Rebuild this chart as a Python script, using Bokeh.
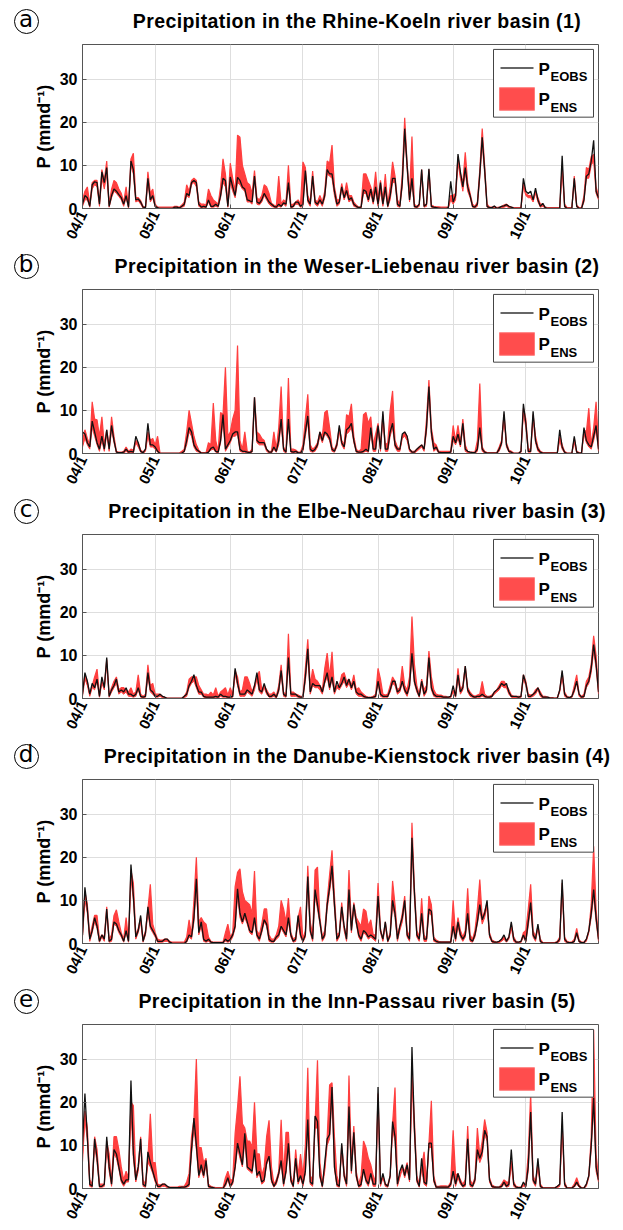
from bokeh.plotting import figure
from bokeh.layouts import column
from bokeh.models import Range1d, FixedTicker, Div
from bokeh.core.properties import value
from bokeh.embed import file_html
from bokeh.resources import INLINE

# ---------------- data ----------------
month_ticks = [0, 30, 61, 91, 122, 153, 183]
month_labels = ["04/1", "05/1", "06/1", "07/1", "08/1", "09/1", "10/1"]
y_ticks = [0, 10, 20, 30]

titles = [
    "Precipitation in the Rhine-Koeln river basin (1)",
    "Precipitation in the Weser-Liebenau river basin (2)",
    "Precipitation in the Elbe-NeuDarchau river basin (3)",
    "Precipitation in the Danube-Kienstock river basin (4)",
    "Precipitation in the Inn-Passau river basin (5)",
]
letters = ["a", "b", "c", "d", "e"]

rhine_eobs = [
    1, 3, 2.5, 0.5, 5.5, 6.2, 6, 1, 8.5, 6,
    9.5, 0.5, 3, 4.5, 4, 3.2, 2.5, 1, 3, 0.3,
    11, 9, 2, 2.2, 1.5, 0.3, 0.2, 7, 2, 3,
    0.5, 0.2, 0, 0, 0, 0, 0, 0, 0.3, 0.3,
    0.1, 0.5, 1, 3.5, 3, 6, 6.5, 6, 1, 0.3,
    0.5, 0.3, 2, 0.5, 0.5, 1, 0.5, 3, 7, 6.5,
    0.5, 7.3, 5, 3, 7.2, 6.5, 5, 4.5, 2, 1.8,
    1.5, 7.5, 1.5, 1.2, 2, 3.5, 2.5, 1.5, 1, 0.5,
    0.3, 1, 0.5, 1.3, 1, 6, 0.3, 0.5, 1.5, 1.5,
    0.5, 1, 8.8, 2, 1, 7.5, 1.5, 1, 2, 1,
    3, 9, 8, 8, 4, 1, 1.5, 5, 2.5, 4.2,
    2, 2.5, 1, 0.5, 0.2, 0.3, 4.3, 4, 2, 4.5,
    1.5, 5, 1, 6, 1, 5, 0.5, 3, 7, 7,
    1, 0.5, 6, 18.5, 10, 2, 7, 0.5, 0.3, 1,
    9, 0.5, 1, 9.2, 0.5, 0.3, 0.2, 0.1, 0, 0,
    0, 0.2, 6.3, 1.5, 3, 12.6, 8.5, 5, 9.5, 5,
    3, 0.5, 0.3, 1, 8, 16.5, 9, 0.5, 0.2, 0.2,
    0.6, 0, 0.2, 0.5, 0.6, 0.9, 0.5, 0.3, 0.1, 0,
    0, 0.1, 7, 4, 3.5, 4, 2, 4.7, 2, 0.5,
    1.2, 0.2, 0, 0, 0, 0, 0, 0.1, 12.2, 0.5,
    0, 0, 0.1, 7, 0.5, 0, 0, 2, 7.5, 8,
    11, 15.8, 4, 2.5,
]
rhine_ens_hi = [
    2, 4, 5, 1, 6, 6.5, 6.5, 1.5, 9, 6.5,
    11, 1, 4.5, 6.5, 6, 4.5, 3.5, 1.5, 5, 0.5,
    11.5, 12.8, 2.5, 2.5, 1.8, 0.5, 0.3, 8.5, 3.5, 4.5,
    1, 0.3, 0.3, 0.3, 0.3, 0.3, 0.3, 0.3, 0.5, 0.5,
    0.3, 0.8, 1.5, 5.5, 4, 6.5, 7, 6.5, 1.5, 1,
    1, 0.8, 4.5, 3, 2, 1.5, 1, 5, 11.5, 8,
    1, 10.5, 7, 4, 17, 16.5, 10, 8, 6, 5.5,
    3.5, 8.8, 2.5, 2, 3, 5.5, 5, 3.5, 1.2, 0.8,
    0.5, 7.5, 1, 2, 1.5, 10, 0.8, 1, 1.5, 2,
    1, 10.8, 9.5, 3, 1.5, 8.7, 2, 1.5, 3, 1.5,
    4, 11, 10.5, 14.7, 5, 2, 2, 5.8, 3, 6,
    3, 3, 1.5, 0.8, 0.3, 0.5, 8, 8, 6.5, 5,
    3, 8.5, 2, 6.5, 2, 8, 1, 5, 10.8, 7.5,
    2, 1, 8, 21, 10.5, 3, 16.7, 1, 0.5, 1,
    9, 0.8, 1, 9, 0.8, 0.5, 0.4, 0.4, 0.3, 0.3,
    0.3, 0.4, 3, 3, 3.5, 12, 8, 6, 13, 6,
    3.5, 1, 0.5, 1.5, 9, 18.5, 10, 1, 0.3, 0.3,
    0.5, 0.2, 0.3, 0.5, 0.8, 1, 0.6, 0.3, 0.2, 0.2,
    0.2, 0.2, 6, 3.5, 3, 3, 2, 4, 2.5, 1,
    1, 0.3, 0.2, 0.2, 0.2, 0.2, 0.2, 0.2, 10, 1,
    0.2, 0.2, 0.2, 7.5, 0.8, 0.2, 0.2, 3, 9.5, 9,
    12, 12.5, 5, 3,
]
rhine_ens_lo = [
    0.5, 2, 2, 0.3, 4.5, 5.5, 5, 0.5, 7, 4.5,
    8, 0.3, 2.5, 4, 3.5, 2.8, 2, 0.5, 2.5, 0.1,
    10, 8, 1.5, 1.8, 1, 0.1, 0.1, 6, 1.5, 2.5,
    0.3, 0, 0, 0, 0, 0, 0, 0, 0.1, 0.1,
    0, 0.3, 0.5, 3, 2.5, 5.5, 6, 5, 0.5, 0.2,
    0.3, 0.2, 1.5, 0.3, 0.3, 0.5, 0.3, 2.5, 6, 5,
    0.3, 6, 4, 2.5, 6, 5.5, 4.5, 4, 1.5, 1.5,
    1, 6.5, 1, 0.8, 1.5, 3, 2, 1, 0.5, 0.3,
    0.1, 0.5, 0.3, 1, 0.5, 5, 0.2, 0.3, 1, 1,
    0.3, 0.5, 8, 1.5, 0.5, 6.5, 1, 0.5, 1.5, 0.5,
    2.5, 8, 7.5, 7, 3, 0.5, 1, 4.5, 2, 3.5,
    1.5, 2, 0.5, 0.3, 0, 0.1, 3.5, 3.5, 1.5, 3.5,
    1, 4, 0.5, 4, 0.5, 4, 0.3, 2, 6, 6,
    0.5, 0.3, 5, 17, 9, 1.5, 6, 0.3, 0.1, 0.5,
    8, 0.3, 0.5, 8, 0.3, 0.1, 0, 0, 0, 0,
    0, 0, 2, 1, 2, 10.5, 7, 4, 8.5, 4,
    2.5, 0.3, 0.1, 0.5, 7, 15, 8, 0.3, 0, 0,
    0.2, 0, 0, 0.2, 0.3, 0.5, 0.2, 0.1, 0, 0,
    0, 0, 5, 3, 2.5, 2.5, 1.5, 3.5, 1.5, 0.3,
    0.5, 0.1, 0, 0, 0, 0, 0, 0, 9, 0.3,
    0, 0, 0, 6, 0.3, 0, 0, 1.5, 7, 7,
    10, 11, 3.5, 2,
]

weser_eobs = [
    5, 4.5, 2.5, 1.5, 7.5, 5, 2.5, 1, 4, 1,
    5.5, 1, 6.5, 3, 0.3, 0.2, 0.2, 0.3, 1, 0.3,
    0.5, 0.3, 4, 2.5, 0.5, 0.2, 1, 7, 2, 2,
    1.5, 0.5, 0, 0, 0, 0, 0, 0, 0, 0,
    0, 0.1, 0.5, 3, 6, 5, 2, 1, 0.5, 0.1,
    0.1, 0.1, 0.3, 1.2, 1.5, 0.5, 0.3, 3, 9, 1,
    2, 3, 4.5, 5, 5, 1, 0.5, 0.5, 0.3, 0.2,
    0.5, 13, 3, 2.5, 2.5, 2.5, 1, 0.3, 0.3, 1.5,
    0.5, 3, 8, 1, 0.3, 8, 0.5, 0.3, 0.5, 0.2,
    0.1, 1, 5, 8.7, 1, 0.5, 1, 2, 5, 3,
    5, 4.5, 3.5, 1, 0.5, 2, 6.5, 2.5, 1.5, 5.5,
    6, 7, 3, 0.5, 0.3, 0.3, 0.5, 1, 0.5, 6,
    1, 1, 6.5, 1, 9.8, 1, 1, 5, 7, 2,
    1, 1, 4.5, 5, 4, 1, 0.3, 0.3, 1, 1.5,
    2, 1, 6, 15.5, 5, 1, 1.5, 0.3, 0.2, 0.2,
    0.2, 0.2, 0.3, 4, 2.5, 4.5, 2, 7, 1, 0.5,
    0.3, 0.2, 0.2, 1, 6, 1, 0.3, 0.1, 0.1, 0.1,
    0.1, 0.1, 1, 2.5, 9.8, 2, 0.5, 0.3, 0, 0,
    0, 0.5, 11.5, 7, 0.5, 0.5, 9.8, 3, 1, 0.3,
    0.1, 0.1, 0.1, 0.1, 0.1, 0.1, 0.1, 5.5, 1.5, 0.3,
    0, 0, 0, 4, 0.3, 0.1, 0.1, 6, 3, 2,
    1.5, 4, 6.5, 1,
]
weser_ens_hi = [
    3, 5.5, 3.5, 2, 12, 8, 7.8, 4, 8.5, 2,
    5.5, 1.5, 8.5, 4, 0.5, 0.3, 0.3, 0.5, 1.5, 0.5,
    1, 0.8, 3, 2.5, 0.8, 0.3, 1, 5, 3, 3.5,
    2, 4, 0.1, 0.1, 0.1, 0.1, 0.1, 0.1, 0.1, 0.1,
    0.1, 0.5, 1, 5, 10, 7, 4, 2, 0.8, 0.2,
    0.2, 0.2, 2.5, 2, 11.7, 3, 0.5, 9.5, 9, 20,
    4, 5, 8, 10, 25, 3, 1, 5, 0.5, 0.3,
    1, 13, 5, 4.5, 3.5, 3, 1, 0.5, 0.5, 5,
    1, 6, 15.5, 1.5, 0.5, 17.5, 1, 1, 0.8, 0.3,
    0.3, 2, 8, 13.7, 2, 1, 1.5, 2.5, 5, 4,
    9.5, 10, 6, 1.5, 0.8, 2.5, 6, 3, 2, 9,
    8.5, 11.5, 4, 1, 0.5, 1, 9, 9.5, 7, 8.5,
    2, 4.5, 7, 2, 9, 2, 2.5, 10, 14.5, 3,
    1.5, 1, 4, 5, 4, 1, 0.5, 0.5, 1, 1.5,
    2, 1, 8, 17, 6, 2.5, 2, 0.5, 0.5, 0.5,
    0.5, 0.5, 0.5, 6.5, 3, 6.5, 2.5, 8, 2, 0.5,
    0.3, 0.3, 0.3, 3, 16.2, 1.5, 0.5, 0.2, 0.2, 0.2,
    0.2, 0.2, 1.5, 3, 9, 2.5, 0.8, 0.5, 0.1, 0.1,
    0.1, 0.5, 10.5, 8, 1, 1, 9, 4, 1.5, 0.5,
    0.2, 0.2, 0.2, 0.2, 0.2, 0.2, 0.2, 4, 2, 0.5,
    0.1, 0.1, 0.1, 3.5, 0.5, 0.2, 0.2, 5.5, 5, 10.5,
    2, 6, 12, 2,
]
weser_ens_lo = [
    1.5, 3.5, 2, 1, 6, 4, 2, 0.5, 3, 0.5,
    4.5, 0.5, 5.5, 2.5, 0.1, 0, 0, 0.1, 0.5, 0.1,
    0.3, 0.1, 2.5, 1.5, 0.3, 0, 0.5, 4, 1.5, 1.5,
    1, 0.3, 0, 0, 0, 0, 0, 0, 0, 0,
    0, 0, 0.3, 2, 5, 4, 1.5, 0.5, 0.3, 0,
    0, 0, 0.2, 0.8, 1, 0.3, 0.1, 2.5, 7.5, 0.5,
    1.5, 2.5, 4, 4, 4.5, 0.5, 0.3, 0.3, 0.1, 0.1,
    0.3, 11, 2.5, 2, 2, 2, 0.5, 0.1, 0.1, 1,
    0.3, 2, 7, 0.5, 0.1, 7, 0.3, 0.1, 0.3, 0,
    0, 0.5, 4, 7.5, 0.5, 0.3, 0.5, 1.5, 4, 2.5,
    4.5, 4, 3, 0.5, 0.3, 1.5, 5, 2, 1, 4.5,
    5, 6, 2.5, 0.3, 0.1, 0.1, 0.3, 0.5, 0.3, 5,
    0.5, 0.5, 5.5, 0.5, 8, 0.5, 0.5, 4, 6, 1.5,
    0.5, 0.5, 3.5, 4, 3, 0.5, 0.1, 0.1, 0.5, 1,
    1.5, 0.5, 5, 14, 4, 0.5, 1, 0.1, 0, 0,
    0, 0, 0.1, 3, 2, 3.5, 1.5, 6, 0.5, 0.2,
    0.1, 0, 0, 0.5, 5, 0.5, 0.1, 0, 0, 0,
    0, 0, 0.5, 2, 8, 1.5, 0.3, 0.1, 0, 0,
    0, 0.2, 9.5, 6, 0.3, 0.3, 8, 2.5, 0.5, 0.1,
    0, 0, 0, 0, 0, 0, 0, 3, 1, 0.1,
    0, 0, 0, 2.5, 0.1, 0, 0, 4.5, 2.5, 1.5,
    1, 3, 5.5, 0.5,
]

elbe_eobs = [
    1, 6, 4, 1, 3.5, 2.5, 4.5, 0.5, 5, 2.5,
    9.5, 0.5, 2, 3, 4.5, 1.5, 2, 1.5, 2.5, 1,
    1, 0.5, 1, 2.5, 0.5, 0.3, 0.5, 6, 2, 1.5,
    0.5, 0.5, 1, 0.5, 0.3, 0, 0, 0, 0, 0,
    0, 0, 0.5, 1, 3, 4, 5.5, 3, 1.5, 1.5,
    0.5, 0.3, 0.3, 0.3, 0.3, 0.5, 0.3, 1, 0.5, 0.5,
    0.3, 0.3, 0.5, 7, 3.5, 1, 1, 1, 2, 1.5,
    1, 3, 6, 2, 1.5, 3.5, 1.5, 0.5, 0.5, 1,
    0.3, 2, 6.5, 1, 0.5, 9.5, 1, 1, 1, 0.5,
    0.3, 0.3, 5, 11.5, 1.5, 3.5, 3, 3, 3, 1.5,
    4, 6, 2.5, 5, 1.5, 4, 2.5, 3.5, 5, 3,
    4.5, 2.5, 4, 1.5, 1, 1, 0.5, 0.3, 0.2, 0.2,
    0.3, 0.5, 4, 1, 0.5, 0.5, 0.5, 2, 4, 4,
    1.5, 2, 4, 2, 1, 3, 10.5, 4, 2, 0.5,
    4, 1, 2, 9.5, 2.5, 1, 0.5, 0.5, 0.5, 0.3,
    0.3, 0.3, 0.5, 3, 0.5, 5.5, 1.5, 2.5, 7.5, 2,
    1, 0.5, 0.3, 0.5, 0.5, 1, 0.5, 0.3, 0.3, 0.5,
    1.5, 2, 2.5, 3.5, 3, 3.5, 1.5, 0.5, 0.5, 0.5,
    0.3, 0.5, 5.5, 3.5, 0.5, 0.5, 1, 1.5, 2.5, 1,
    0.3, 0.3, 0.3, 0.1, 0.1, 0, 0.1, 2, 6.5, 1,
    0.3, 0.2, 0.5, 2, 4, 1, 0.3, 0.5, 3, 4,
    7, 12.5, 8, 1.5,
]
elbe_ens_hi = [
    1.5, 5.5, 4, 1, 3, 5, 6.8, 1, 4, 3,
    9, 1, 2.5, 4, 5, 2, 2.5, 2.5, 2, 1.5,
    2.5, 1, 1.5, 5.5, 1, 0.5, 1, 7.8, 3, 3.5,
    1, 1, 1, 0.5, 0.3, 0.1, 0.1, 0.1, 0.1, 0.1,
    0.1, 0.1, 0.5, 1.5, 4.5, 5, 5, 5, 3, 2,
    1, 1, 0.8, 1.5, 0.8, 2.5, 0.5, 1.5, 2, 2.5,
    0.8, 2.5, 0.8, 6.5, 5, 1.5, 2, 5, 5, 3.5,
    1.5, 3, 5, 6.3, 2, 3, 2, 1, 1, 1.5,
    0.5, 3, 7.8, 1.5, 0.8, 15, 1.5, 1.5, 1, 0.8,
    0.5, 0.5, 7, 13.7, 3, 6.8, 4.5, 4, 3, 2,
    7, 10.5, 5, 10.8, 2, 3, 3, 5.5, 6, 4,
    4.5, 3, 5.5, 2, 2.5, 1.5, 1, 0.5, 0.3, 0.3,
    0.5, 1, 7, 4.5, 1, 0.8, 1, 3, 5, 4,
    2, 2.5, 7.5, 3, 2, 5, 19, 8, 3, 1,
    4.5, 2, 3, 11, 5, 2, 1, 0.8, 0.8, 0.5,
    0.5, 0.3, 0.5, 2, 1, 7, 2, 3, 7.5, 2.5,
    1.5, 0.8, 0.5, 0.8, 1, 4, 1, 0.5, 0.5, 0.8,
    1.5, 2, 3, 4, 4, 3, 2, 0.8, 0.5, 0.5,
    0.5, 0.5, 5.5, 4, 1, 0.8, 1, 2, 2.5, 1.5,
    0.5, 0.5, 0.3, 0.2, 0.2, 0.1, 0.2, 2, 6, 1.5,
    0.5, 0.3, 0.5, 3, 5.5, 1, 0.5, 1, 4, 5,
    8, 14.5, 10, 2,
]
elbe_ens_lo = [
    0.5, 4.5, 3, 0.5, 2.5, 2, 4, 0.3, 3.5, 2,
    8, 0.3, 1.5, 2.5, 3.5, 1, 1.5, 1, 1.5, 0.5,
    0.5, 0.3, 0.5, 2, 0.3, 0.1, 0.3, 5, 1.5, 1,
    0.3, 0.3, 0.5, 0.2, 0.1, 0, 0, 0, 0, 0,
    0, 0, 0.2, 0.5, 2.5, 3.5, 4, 2.5, 1, 1,
    0.3, 0.1, 0.1, 0.1, 0.1, 0.3, 0.1, 0.5, 0.3, 0.3,
    0.1, 0.1, 0.3, 5.5, 3, 0.5, 0.5, 0.5, 1.5, 1,
    0.5, 2, 4.5, 1.5, 1, 2.5, 1, 0.3, 0.3, 0.5,
    0.1, 1.5, 5.5, 0.5, 0.3, 8, 0.5, 0.5, 0.5, 0.3,
    0.1, 0.1, 4, 10, 1, 3, 2.5, 2.5, 2, 1,
    3.5, 5, 2, 4.5, 1, 2.5, 2, 3, 4, 2.5,
    3.5, 2, 3.5, 1, 0.5, 0.5, 0.3, 0.1, 0.1, 0.1,
    0.1, 0.3, 3.5, 0.5, 0.3, 0.3, 0.3, 1.5, 3.5, 3,
    1, 1.5, 3.5, 1.5, 0.5, 2.5, 9.5, 3.5, 1.5, 0.3,
    3.5, 0.5, 1.5, 8.5, 2, 0.5, 0.3, 0.3, 0.3, 0.1,
    0.1, 0.1, 0.2, 1.5, 0.3, 4.5, 1, 2, 6.5, 1.5,
    0.5, 0.3, 0.1, 0.3, 0.3, 0.5, 0.3, 0.1, 0.1, 0.3,
    1, 1.5, 2, 3, 2.5, 2.5, 1, 0.3, 0.2, 0.2,
    0.1, 0.2, 4.5, 3, 0.3, 0.3, 0.5, 1, 2, 0.5,
    0.1, 0.1, 0.1, 0, 0, 0, 0, 1.5, 5, 0.5,
    0.1, 0.1, 0.2, 1.5, 3.5, 0.5, 0.1, 0.3, 2.5, 3.5,
    6, 11, 7, 1,
]

danube_eobs = [
    2, 13, 8, 1, 3, 6, 4, 0.5, 2, 1,
    8, 0.5, 1, 5, 4.5, 3, 2, 0.5, 3, 0.5,
    18.3, 11, 1.5, 3, 6.5, 0.5, 2.5, 8.5, 4, 3,
    2, 0.5, 0.5, 0.5, 1, 1, 0.3, 0.1, 0, 0,
    0, 0, 0, 0.5, 2, 1.5, 6, 15, 2.5, 5,
    1, 0.5, 1, 0.3, 0.2, 0.2, 0.2, 0.2, 0.2, 1,
    0.5, 1, 2, 4, 12.7, 7, 5, 7, 5, 3,
    2.5, 6, 2, 1, 3, 5.5, 4.5, 1, 0.5, 0.5,
    1.5, 2, 4, 3, 2, 6, 2, 0.5, 1, 6.5,
    2, 0.5, 2, 15.5, 3, 1, 12.5, 9, 5, 1,
    2, 9, 13, 18, 9, 1, 2, 8.5, 4, 1,
    12.5, 3, 9, 5, 2, 1, 3, 2.5, 1.5, 2,
    1.5, 1, 11, 3, 1, 5, 0.5, 2, 10, 7,
    1, 4, 6, 10, 2, 1, 24.5, 12, 2, 1,
    7, 1, 1, 8, 7.5, 1, 0.5, 0.3, 0.3, 0.3,
    0.3, 0.3, 0.3, 4, 1, 5, 2, 1, 2, 7,
    1, 0.5, 2, 5, 9, 5.5, 7, 10, 2, 0.5,
    0.3, 0.3, 0.5, 1, 2, 0.5, 1.5, 5, 1, 0.3,
    0.3, 0.5, 2, 0.5, 5, 9.5, 2, 1, 4.5, 0.5,
    0.1, 0.1, 0.1, 0.1, 0.1, 0.1, 0.3, 1, 14.8, 1,
    0.3, 0.2, 0.2, 0.5, 2.5, 0.5, 0.2, 0.2, 1, 3,
    7, 12.5, 6, 1,
]
danube_ens_hi = [
    2.5, 12, 9, 1.5, 4, 6.5, 6.5, 1, 2, 1.5,
    8.5, 1, 2, 6.5, 7.8, 5, 2.5, 1, 6, 0.8,
    17, 14, 2, 3.5, 6, 1, 3, 8, 13.7, 4.5,
    2.5, 1, 0.8, 0.8, 1, 1, 0.5, 0.3, 0.3, 0.3,
    0.3, 0.3, 0.3, 1.5, 5.5, 2, 10, 20, 5, 6,
    5, 4.5, 1.5, 0.5, 0.3, 0.3, 0.3, 0.3, 0.3, 2.5,
    4.5, 1.5, 2.5, 13.2, 16.5, 17.3, 12, 10, 9.5, 9,
    7, 16.8, 3, 2, 4.5, 8, 8, 2, 1, 1,
    2, 4, 10, 8, 5, 10.5, 2.5, 1, 1.5, 6,
    8.5, 1, 3, 18, 5, 2, 17, 17.7, 6, 1.5,
    3, 10, 16, 21.6, 11, 2, 2.5, 9.5, 4, 1.5,
    17, 4, 9.5, 6, 5, 4, 8, 7.5, 4, 5.5,
    2, 2, 14, 3.5, 1, 5, 0.8, 2.5, 14.5, 9,
    2, 4, 7, 11, 3, 1.5, 28, 13, 3, 1.5,
    10.5, 2, 1, 11, 9, 1.5, 0.8, 0.5, 0.4, 0.4,
    0.4, 0.4, 0.4, 10, 2, 6, 3, 1.5, 3, 12.8,
    2, 1, 3, 8, 14.8, 6, 7.5, 9.5, 2.5, 0.8,
    0.5, 0.3, 0.5, 1, 1.5, 0.8, 1.5, 4.5, 1.5, 0.5,
    0.3, 0.5, 2.5, 3, 8, 13.7, 3, 1.5, 4, 1,
    0.2, 0.2, 0.2, 0.2, 0.2, 0.2, 0.5, 1.5, 14, 1.5,
    0.5, 0.3, 0.3, 1, 3.5, 0.8, 0.3, 0.3, 1, 3,
    9, 22.5, 8, 1.5,
]
danube_ens_lo = [
    1.5, 10, 7, 0.5, 2.5, 5, 3.5, 0.3, 1.5, 0.5,
    7, 0.3, 0.5, 4.5, 4, 2.5, 1.5, 0.3, 2.5, 0.3,
    15, 10, 1, 2.5, 5, 0.3, 2, 7, 3.5, 2.5,
    1.5, 0.3, 0.3, 0.3, 0.5, 0.5, 0.1, 0, 0, 0,
    0, 0, 0, 0.3, 1.5, 1, 5, 13, 2, 4,
    0.5, 0.3, 0.5, 0.1, 0.1, 0.1, 0.1, 0.1, 0.1, 0.5,
    0.3, 0.5, 1.5, 3.5, 11, 6, 4.5, 6, 4.5, 2.5,
    2, 5, 1.5, 0.5, 2.5, 5, 4, 0.5, 0.3, 0.3,
    1, 1.5, 3.5, 2.5, 1.5, 5, 1.5, 0.3, 0.5, 5,
    1.5, 0.3, 1.5, 14, 2.5, 0.5, 11, 8, 4.5, 0.5,
    1.5, 8, 12, 16, 8, 0.5, 1.5, 7.5, 3, 0.5,
    11, 2.5, 8, 4.5, 1.5, 0.5, 2.5, 2, 1, 1.5,
    1, 0.5, 10, 2.5, 0.5, 4, 0.3, 1.5, 9, 6,
    0.5, 3, 5, 9, 1.5, 0.5, 22, 10.5, 1.5, 0.5,
    6, 0.5, 0.5, 7, 6.5, 0.5, 0.3, 0.1, 0.1, 0.1,
    0.1, 0.1, 0.1, 3.5, 0.5, 4, 1.5, 0.5, 1.5, 6,
    0.5, 0.3, 1.5, 4.5, 8, 4.5, 6, 8.5, 1.5, 0.3,
    0.1, 0.1, 0.2, 0.5, 1, 0.3, 1, 3.5, 0.5, 0.1,
    0.1, 0.2, 1.5, 0.3, 4, 8.5, 1.5, 0.5, 3.5, 0.3,
    0, 0, 0, 0, 0, 0, 0.1, 0.5, 12.5, 0.5,
    0.1, 0.1, 0.1, 0.3, 2, 0.3, 0.1, 0.1, 0.5, 2.5,
    6, 11, 5, 0.5,
]

inn_eobs = [
    10, 22, 12, 1, 0.5, 11.5, 7, 0.5, 0.5, 1,
    12, 5, 1, 9, 8, 5, 2, 1, 2, 2,
    25, 8, 2, 5, 11.5, 1, 0.5, 8.5, 6, 4,
    2, 0.5, 0.5, 1, 1, 0.5, 0.2, 0.2, 0.2, 0.2,
    0.2, 0.3, 0.3, 0.5, 1, 9, 16.3, 10, 3, 5.5,
    3, 6.5, 0.5, 0.3, 0.2, 0, 0, 0, 0, 1,
    2.5, 0.5, 1.5, 5, 10.5, 8, 5.5, 12.8, 5, 4.5,
    4, 9, 3, 4, 1.5, 2, 6, 7.5, 2, 0.5,
    1.5, 3.5, 6.5, 1, 4, 10.5, 2, 0.5, 7, 1.5,
    3, 1, 4, 16, 1.5, 1, 16.8, 15.5, 3, 0.5,
    6, 11.5, 12.5, 23.5, 5, 1, 0.5, 10.5, 3, 1,
    19, 4, 13, 3, 0.5, 1, 4.5, 2, 1, 3.5,
    1, 1, 23.5, 1, 3.5, 1, 0.5, 3, 15.5, 12,
    1, 4, 5.5, 3, 5.5, 2, 32.8, 14, 2, 0.5,
    7, 1.5, 1, 10.5, 10.5, 2, 0.3, 0.3, 0.3, 0.3,
    0.3, 0.3, 1, 4, 1, 3.5, 1.5, 0.5, 1, 11.5,
    1, 0.5, 2, 9, 7, 8.5, 13.5, 12, 2, 0.5,
    0.3, 0.3, 0.3, 0.5, 1.5, 0.5, 1, 9, 1, 0.3,
    0.2, 0.2, 1.5, 0.5, 5, 17.7, 2, 1, 7, 0.5,
    0.1, 0.1, 0.1, 0.1, 0.1, 0.1, 0.5, 1, 17.7, 1,
    0.1, 0.1, 0.1, 0.5, 1.5, 0.5, 0.1, 0.1, 1, 3,
    10, 21, 5, 2,
]
inn_ens_hi = [
    8, 18, 14, 2, 1, 12, 9, 1, 1, 1,
    11, 8, 1.5, 12, 12, 9, 5, 2, 4, 2.5,
    20, 19.2, 3, 5, 12, 2, 1, 7, 17.3, 6,
    6, 1, 0.8, 1, 1, 0.5, 0.3, 0.3, 0.3, 0.3,
    0.5, 0.5, 0.5, 1.5, 3.5, 12, 16, 30, 9.5, 9.5,
    6, 7, 1, 0.5, 0.3, 0.2, 0.2, 0.2, 0.2, 2.5,
    4, 2, 2, 12.8, 18.8, 26, 15, 14, 11, 11,
    9.5, 20, 8, 8, 3, 5, 12, 15.8, 5, 1,
    2, 4, 15.9, 3, 13, 13, 3, 1, 9, 3,
    8, 3, 10, 28, 3, 2, 15, 29.7, 6, 1,
    5, 12, 24, 24.5, 12, 3, 1, 10, 4, 1,
    26.2, 6, 14.5, 4, 1, 3, 11, 9.5, 7, 5.5,
    3, 1.5, 22, 1, 3, 1, 0.8, 3, 15, 23.4,
    2, 3, 5, 4, 6, 2.5, 27, 16, 3, 1,
    5, 8.5, 1.5, 10.5, 20.3, 3, 0.5, 0.5, 0.6, 0.6,
    0.6, 0.5, 1.5, 13.5, 3, 3.5, 2, 1, 2, 14.5,
    2, 1, 2.5, 14, 7.5, 11, 16, 13, 2.5, 0.8,
    0.5, 0.3, 0.3, 1, 2, 1.5, 1.5, 6.5, 1.5, 0.5,
    0.3, 0.3, 1, 1, 8, 22, 3, 1.5, 6, 1,
    0.2, 0.2, 0.2, 0.2, 0.2, 0.2, 0.5, 1, 15, 1.5,
    0.2, 0.2, 0.2, 1, 2.5, 0.8, 0.2, 0.2, 1, 3,
    12, 36.8, 8, 2.5,
]
inn_ens_lo = [
    6, 16, 11, 0.5, 0.3, 10, 6, 0.3, 0.3, 0.5,
    9.5, 4, 0.5, 8, 7, 4.5, 1.5, 0.5, 1.5, 1.5,
    18, 7, 1.5, 4, 10, 0.5, 0.3, 6, 5, 3.5,
    1.5, 0.3, 0.3, 0.5, 0.5, 0.2, 0, 0, 0, 0,
    0, 0.1, 0.1, 0.3, 0.5, 8, 14, 9, 2.5, 4.5,
    2.5, 5.5, 0.3, 0.1, 0.1, 0, 0, 0, 0, 0.5,
    2, 0.3, 1, 4.5, 9.5, 7, 5, 11, 4.5, 4,
    3.5, 8, 2.5, 3.5, 1, 1.5, 5.5, 7, 1.5, 0.3,
    1, 3, 6, 0.5, 3.5, 9.5, 1.5, 0.3, 6, 1,
    2.5, 0.5, 3.5, 14, 1, 0.5, 14, 14, 2.5, 0.3,
    4, 10, 11.5, 21, 4.5, 0.5, 0.3, 9, 2.5, 0.5,
    17, 3.5, 12, 2.5, 0.3, 0.5, 4, 1.5, 0.5, 3,
    0.5, 0.5, 20, 0.5, 2.5, 0.5, 0.3, 2.5, 13.5, 11,
    0.5, 2.5, 4.5, 2.5, 4.5, 1.5, 25, 12.5, 1.5, 0.3,
    4.5, 1, 0.5, 9.5, 9.5, 1.5, 0.1, 0.1, 0.1, 0.1,
    0.1, 0.1, 0.5, 3.5, 0.5, 2.5, 1, 0.3, 0.5, 10.5,
    0.5, 0.3, 1.5, 8, 6, 7.5, 12.5, 11, 1.5, 0.3,
    0.1, 0.1, 0.1, 0.3, 1, 0.3, 0.5, 5.5, 0.5, 0.1,
    0.1, 0.1, 0.5, 0.3, 4, 16, 1.5, 0.5, 5, 0.3,
    0, 0, 0, 0, 0, 0, 0.2, 0.5, 14, 0.5,
    0, 0, 0, 0.3, 1, 0.3, 0, 0, 0.5, 2.5,
    9, 19, 4, 1.5,
]

panels = [
    (rhine_eobs, rhine_ens_lo, rhine_ens_hi),
    (weser_eobs, weser_ens_lo, weser_ens_hi),
    (elbe_eobs, elbe_ens_lo, elbe_ens_hi),
    (danube_eobs, danube_ens_lo, danube_ens_hi),
    (inn_eobs, inn_ens_lo, inn_ens_hi),
]

# ---------------- style / layout ----------------
FONT = "Liberation Sans"
RED = "#ff3f3f"
X_END = 213
Y_END = 38
PAGE_W = 620
FRAME_LEFT = 82
FRAME_W = 516
FRAME_H = 167
TOP_PAD = 2
BOTTOM = 37


def dx(px):
    return px * X_END / FRAME_W


def dy(py):
    return Y_END - py * Y_END / FRAME_H


def make_header(title_text, letter, h):
    base = h - 13          # title baseline, px from header top (15px above frame)
    cy = h - 21            # centre of the circled letter, px from header top
    r = 12.5
    fs = 19.5
    html = (
        f'<div style="position:relative;width:{PAGE_W}px;height:{h}px;'
        f'background:white;overflow:hidden;">'
        f'<div style="position:absolute;left:{26 - r}px;top:{cy - r}px;'
        f'width:{2 * r}px;height:{2 * r}px;box-sizing:border-box;'
        f'border:1.2px solid black;border-radius:50%;"></div>'
        f'<div style="position:absolute;left:{26 - r}px;top:{cy - r - 2}px;'
        f'width:{2 * r}px;height:{2 * r}px;line-height:{2 * r}px;text-align:center;'
        f'font-family:\'DejaVu Sans\';font-size:23px;color:black;">{letter}</div>'
        f'<div style="position:absolute;left:0px;top:{base - 0.8465 * fs}px;width:714px;'
        f'text-align:center;white-space:nowrap;font-family:\'Liberation Sans\';'
        f'font-weight:bold;font-size:{fs}px;line-height:{fs}px;letter-spacing:0.4px;'
        f'color:black;">{title_text}</div></div>'
    )
    return Div(text=html, width=PAGE_W, height=h, margin=0)


def make_panel(eobs, lo, hi):
    p = figure(width=PAGE_W, height=TOP_PAD + FRAME_H + BOTTOM,
               output_backend="svg", toolbar_location=None,
               x_range=Range1d(0, X_END), y_range=Range1d(0, Y_END),
               min_border_left=FRAME_LEFT,
               min_border_right=PAGE_W - FRAME_LEFT - FRAME_W,
               min_border_top=TOP_PAD, min_border_bottom=BOTTOM,
               background_fill_color="white", border_fill_color="white")

    p.outline_line_color = "#555555"
    p.outline_line_width = 1

    for ax in (p.xaxis, p.yaxis):
        ax.axis_line_color = "#555555"
        ax.major_tick_in = 4
        ax.major_tick_out = 0
        ax.major_tick_line_color = "#555555"
        ax.minor_tick_line_color = None
        ax.major_label_text_font = FONT
        ax.major_label_text_font_style = "bold"
        ax.major_label_text_color = "black"

    p.xaxis.ticker = FixedTicker(ticks=month_ticks)
    p.xaxis.major_label_overrides = {t: l for t, l in zip(month_ticks, month_labels)}
    p.xaxis.major_label_orientation = 1.13
    p.xaxis.major_label_text_font_size = "15px"
    p.xaxis.major_label_standoff = 3

    p.yaxis.ticker = FixedTicker(ticks=y_ticks)
    p.yaxis.major_label_text_font_size = "16px"
    p.yaxis.major_label_standoff = 5
    p.yaxis.axis_label = "P (mmd\u207b\u00b9)"
    p.yaxis.axis_label_text_font = FONT
    p.yaxis.axis_label_text_font_size = "18px"
    p.yaxis.axis_label_text_font_style = "bold"
    p.yaxis.axis_label_text_color = "black"
    p.yaxis.axis_label_standoff = 3

    p.xgrid.ticker = FixedTicker(ticks=month_ticks)
    p.ygrid.ticker = FixedTicker(ticks=y_ticks)
    for g in (p.xgrid, p.ygrid):
        g.grid_line_color = "#dedede"
        g.grid_line_width = 1

    n = min(len(lo), len(hi))
    days = list(range(n))
    p.varea(x=days, y1=lo[:n], y2=hi[:n], fill_color=RED, fill_alpha=1.0)
    p.line(days, hi[:n], line_color=RED, line_width=1.2)
    p.line(days, lo[:n], line_color=RED, line_width=1.0)
    p.line(list(range(len(eobs))), eobs, line_color="#111111", line_width=1.3)

    # legend (offsets in pixels from the frame's top-left corner)
    p.quad(left=[dx(411)], right=[dx(511)], top=[dy(5)], bottom=[dy(74)],
           fill_color="white", line_color="#444444", line_width=1)
    p.line([dx(418), dx(451)], [dy(24), dy(24)], line_color="#333333", line_width=1.5)
    p.quad(left=[dx(417)], right=[dx(452)], top=[dy(44)], bottom=[dy(67)],
           fill_color="#ff4d4d", line_color="#ff7a7a", line_width=1)
    p.text(x=[dx(456), dx(456)], y=[dy(25.5), dy(56.5)], text=["P", "P"],
           text_font=value(FONT), text_font_size="17px", text_font_style="bold",
           text_baseline="alphabetic", text_align="left", text_color="black")
    p.text(x=[dx(468), dx(468)], y=[dy(33), dy(64.5)], text=["EOBS", "ENS"],
           text_font=value(FONT), text_font_size="13px", text_font_style="bold",
           text_baseline="alphabetic", text_align="left", text_color="black")
    return p


items = []
for i, (t, let, (e, lo, hi)) in enumerate(zip(titles, letters, panels)):
    header_h = 42 if i == 0 else 39
    items.append(make_header(t, let, header_h))
    items.append(make_panel(e, lo, hi))

layout = column(*items, spacing=0)
open("out.html", "w").write(file_html(layout, INLINE))
